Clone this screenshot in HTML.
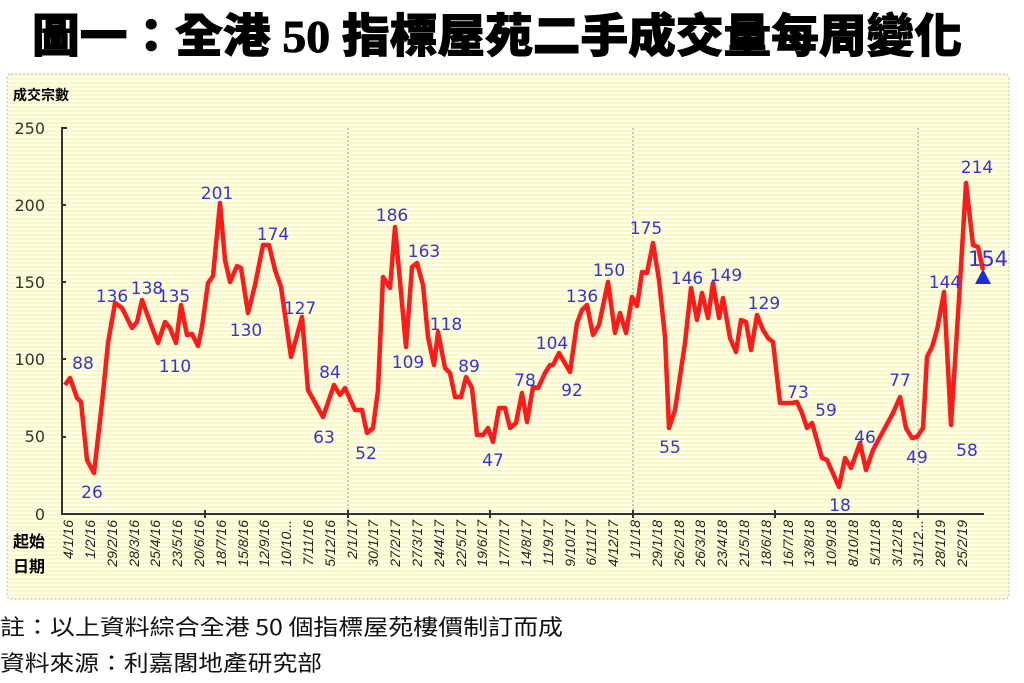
<!DOCTYPE html>
<html><head><meta charset="utf-8"><style>
html,body{margin:0;padding:0;background:#fff;width:1024px;height:683px;overflow:hidden}
svg{display:block}
</style></head><body>
<svg width="1024" height="683" viewBox="0 0 1024 683" xmlns="http://www.w3.org/2000/svg" font-family="Liberation Sans, Noto Sans CJK TC, sans-serif">
<defs>
<pattern id="st" width="4" height="4" patternUnits="userSpaceOnUse">
<rect width="4" height="4" fill="#ffffe8"/><rect y="2" width="4" height="2" fill="#fbf8c8"/>
</pattern>
</defs>
<text x="497" y="52" text-anchor="middle" font-size="46" font-weight="900" textLength="930" lengthAdjust="spacingAndGlyphs" font-family="Liberation Serif, Noto Sans CJK TC, serif" stroke="#000" stroke-width="1">圖一：全港 50 指標屋苑二手成交量每周變化</text>
<rect x="7" y="74" width="1002" height="525" rx="4" fill="url(#st)" stroke="#bbb" stroke-dasharray="2,2"/>
<text x="13" y="100" font-size="14" font-weight="bold" font-family="Noto Sans CJK TC, sans-serif">成交宗數</text>
<g font-size="16" fill="#333" text-anchor="end" font-family="DejaVu Sans, sans-serif">
<text x="45" y="134">250</text><text x="45" y="211">200</text><text x="45" y="288">150</text><text x="45" y="365">100</text><text x="45" y="442">50</text><text x="45" y="520">0</text>
</g>
<g stroke="#999" stroke-dasharray="2,2"><line x1="348" y1="128" x2="348" y2="514"/><line x1="633" y1="128" x2="633" y2="514"/><line x1="918" y1="128" x2="918" y2="514"/></g>
<g stroke="#333" stroke-width="2"><line x1="62" y1="127" x2="62" y2="515"/><line x1="62" y1="514" x2="984" y2="514"/>
<line x1="62" y1="128" x2="67" y2="128"/><line x1="62" y1="205" x2="66" y2="205"/><line x1="62" y1="282" x2="66" y2="282"/><line x1="62" y1="359" x2="66" y2="359"/><line x1="62" y1="437" x2="66" y2="437"/>
<line x1="205" y1="510" x2="205" y2="518"/><line x1="348" y1="510" x2="348" y2="518"/><line x1="490" y1="510" x2="490" y2="518"/><line x1="633" y1="510" x2="633" y2="518"/><line x1="775" y1="510" x2="775" y2="518"/><line x1="918" y1="510" x2="918" y2="518"/></g>
<g font-size="16" font-weight="bold" font-family="Noto Sans CJK TC, sans-serif"><text x="13" y="547">起始</text><text x="13" y="572">日期</text></g>
<polyline fill="none" stroke="#ff1a1a" stroke-width="4.5" stroke-linejoin="round" points="65,385 70,378 77,398 81,402 87,460 94,473 102,403 108,343 115,303 122,308 132,328 137,322 142,300 150,322 158,343 165,322 170,328 176,343 181,305 187,335 192,334 198,346 202,327 208,283 213,276 220,203 225,260 230,282 237,266 241,268 248,313 255,285 263,245 269,245 275,270 281,287 291,357 302,317 308,390 323,417 334,385 340,395 345,388 355,410 362,410 367,433 373,428 378,390 383,277 390,288 395,227 406,347 412,267 417,263 423,285 428,337 434,365 438,332 445,368 450,373 455,397 461,397 466,377 472,388 477,435 483,435 488,428 493,442 499,408 505,408 510,428 516,423 522,393 527,422 533,387 538,388 545,373 550,365 553,365 559,353 570,372 577,323 582,310 587,305 593,335 599,325 608,282 615,333 620,313 626,333 632,297 637,306 642,272 647,273 653,243 659,280 665,337 669,428 675,410 685,343 691,288 697,320 702,293 708,318 713,283 719,318 723,298 730,338 736,352 741,320 746,322 751,350 757,315 763,330 768,338 773,342 780,403 792,403 797,402 802,413 807,428 812,423 822,458 827,460 839,487 845,458 851,468 860,443 866,470 873,450 893,413 900,397 906,428 912,438 917,437 923,428 927,357 932,347 937,330 944,292 951,425 960,283 966,183 973,245 978,247 983,270"/>
<polygon points="983,269 975,284 991,284" fill="#1a2ee0"/>
<g font-size="17" fill="#3333dd" text-anchor="middle" font-family="DejaVu Sans, sans-serif">
<text x="83" y="369">88</text><text x="92" y="498">26</text><text x="112" y="302">136</text><text x="147" y="294">138</text><text x="174" y="302">135</text><text x="175" y="372">110</text><text x="217" y="199">201</text><text x="246" y="336">130</text><text x="273" y="240">174</text><text x="300" y="314">127</text><text x="330" y="378">84</text><text x="324" y="443">63</text><text x="366" y="459">52</text><text x="392" y="221">186</text><text x="424" y="257">163</text><text x="408" y="368">109</text><text x="446" y="330">118</text><text x="469" y="372">89</text><text x="493" y="466">47</text><text x="525" y="386">78</text><text x="552" y="349">104</text><text x="572" y="396">92</text><text x="582" y="302">136</text><text x="609" y="276">150</text><text x="646" y="234">175</text><text x="670" y="453">55</text><text x="687" y="284">146</text><text x="726" y="281">149</text><text x="764" y="309">129</text><text x="798" y="398">73</text><text x="826" y="416">59</text><text x="840" y="511">18</text><text x="865" y="443">46</text><text x="900" y="386">77</text><text x="917" y="463">49</text><text x="945" y="288">144</text><text x="967" y="456">58</text><text x="977" y="173">214</text><text x="988" y="266" font-size="21">154</text>
</g>
<g font-size="22" font-family="Noto Sans CJK TC, sans-serif" fill="#111"><text x="0" y="635" textLength="563" lengthAdjust="spacingAndGlyphs">註：以上資料綜合全港 50 個指標屋苑樓價制訂而成</text><text x="0" y="671" textLength="322" lengthAdjust="spacingAndGlyphs">資料來源：利嘉閣地產研究部</text></g>
<g font-size="14" fill="#222" text-anchor="end" font-style="italic">
<text transform="translate(73,520) rotate(-90)">4/1/16</text><text transform="translate(95,520) rotate(-90)">1/2/16</text><text transform="translate(117,520) rotate(-90)">29/2/16</text><text transform="translate(139,520) rotate(-90)">28/3/16</text><text transform="translate(160,520) rotate(-90)">25/4/16</text><text transform="translate(182,520) rotate(-90)">23/5/16</text><text transform="translate(204,520) rotate(-90)">20/6/16</text><text transform="translate(226,520) rotate(-90)">18/7/16</text><text transform="translate(248,520) rotate(-90)">15/8/16</text><text transform="translate(269,520) rotate(-90)">12/9/16</text><text transform="translate(291,520) rotate(-90)">10/10...</text><text transform="translate(313,520) rotate(-90)">7/11/16</text><text transform="translate(335,520) rotate(-90)">5/12/16</text><text transform="translate(357,520) rotate(-90)">2/1/17</text><text transform="translate(378,520) rotate(-90)">30/1/17</text><text transform="translate(400,520) rotate(-90)">27/2/17</text><text transform="translate(422,520) rotate(-90)">27/3/17</text><text transform="translate(444,520) rotate(-90)">24/4/17</text><text transform="translate(466,520) rotate(-90)">22/5/17</text><text transform="translate(487,520) rotate(-90)">19/6/17</text><text transform="translate(509,520) rotate(-90)">17/7/17</text><text transform="translate(531,520) rotate(-90)">14/8/17</text><text transform="translate(553,520) rotate(-90)">11/9/17</text><text transform="translate(575,520) rotate(-90)">9/10/17</text><text transform="translate(596,520) rotate(-90)">6/11/17</text><text transform="translate(618,520) rotate(-90)">4/12/17</text><text transform="translate(640,520) rotate(-90)">1/1/18</text><text transform="translate(662,520) rotate(-90)">29/1/18</text><text transform="translate(684,520) rotate(-90)">26/2/18</text><text transform="translate(705,520) rotate(-90)">26/3/18</text><text transform="translate(727,520) rotate(-90)">23/4/18</text><text transform="translate(749,520) rotate(-90)">21/5/18</text><text transform="translate(771,520) rotate(-90)">18/6/18</text><text transform="translate(793,520) rotate(-90)">16/7/18</text><text transform="translate(814,520) rotate(-90)">13/8/18</text><text transform="translate(836,520) rotate(-90)">10/9/18</text><text transform="translate(858,520) rotate(-90)">8/10/18</text><text transform="translate(880,520) rotate(-90)">5/11/18</text><text transform="translate(902,520) rotate(-90)">3/12/18</text><text transform="translate(923,520) rotate(-90)">31/12...</text><text transform="translate(945,520) rotate(-90)">28/1/19</text><text transform="translate(967,520) rotate(-90)">25/2/19</text>
</g>
</svg>
</body></html>
